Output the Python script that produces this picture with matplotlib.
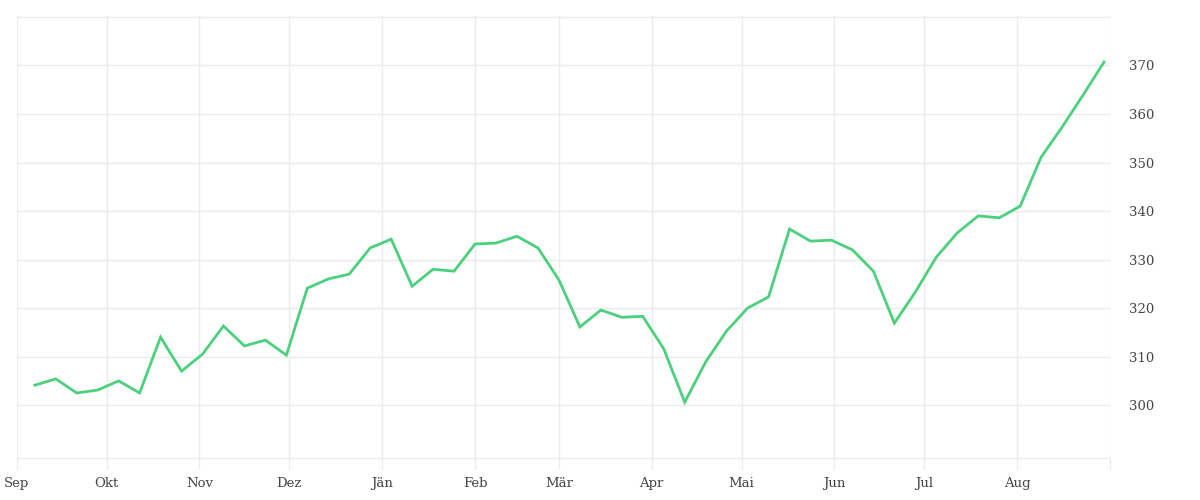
import numpy as np
import pandas as pd
import matplotlib
matplotlib.use('Agg')
import matplotlib.pyplot as plt
import matplotlib.dates as mdates

# --- Data (weekly values) ---
START_DATE = '2020-09-07'
values = [
    304.1, 305.4, 302.5, 303.1, 305.0, 302.5, 314.0, 307.0, 310.5, 316.3,
    312.2, 313.4, 310.3, 324.1, 326.0, 327.0, 332.4, 334.2, 324.5, 328.0,
    327.6, 333.2, 333.4, 334.8, 332.4, 325.8, 316.1, 319.6, 318.1, 318.3,
    311.6, 300.6, 308.9, 315.3, 320.0, 322.3, 336.3, 333.8, 334.0, 332.0,
    327.6, 316.9, 323.3, 330.5, 335.5, 339.0, 338.6, 341.0, 351.1, 357.3,
    363.9, 370.7,
]
month_labels = ['Sep', 'Okt', 'Nov', 'Dez', 'Jän', 'Feb', 'Mär', 'Apr',
                'Mai', 'Jun', 'Jul', 'Aug', '']
y_ticks = [300, 310, 320, 330, 340, 350, 360, 370, 380]
y_labels = ['300', '310', '320', '330', '340', '350', '360', '370', '']

dates = pd.date_range(START_DATE, periods=len(values), freq='7D')
month_starts = pd.date_range('2020-09-01', '2021-09-01', freq='MS')

GRID = '#ebebeb'
TEXT = '#444444'
LINE = '#4cd07d'

plt.rcParams['font.family'] = ['DejaVu Serif']

fig = plt.figure(figsize=(12, 5), dpi=100)
ax = fig.add_axes([0.014, 0.084, 0.911, 0.884])

ax.plot(dates, values, color=LINE, linewidth=2.0, solid_joinstyle='miter')

ax.set_xlim(month_starts[0], month_starts[-1])
ax.set_ylim(289.1, 380.2)

ax.set_xticks(month_starts)
ax.set_xticklabels(month_labels)
ax.yaxis.tick_right()
ax.set_yticks(y_ticks)
ax.set_yticklabels(y_labels)

ax.grid(True, color=GRID, linewidth=1)
ax.set_axisbelow(True)
for side in ['top', 'right', 'left']:
    ax.spines[side].set_visible(False)
ax.spines['bottom'].set_color(GRID)
ax.spines['bottom'].set_linewidth(1)

ax.tick_params(axis='x', colors=GRID, length=8, width=1, labelcolor=TEXT,
               labelsize=9.5, pad=6)
ax.tick_params(axis='y', colors=GRID, length=0, labelcolor=TEXT,
               labelsize=9.5, pad=14)

plt.savefig('out.png', dpi=100)
plt.close()
